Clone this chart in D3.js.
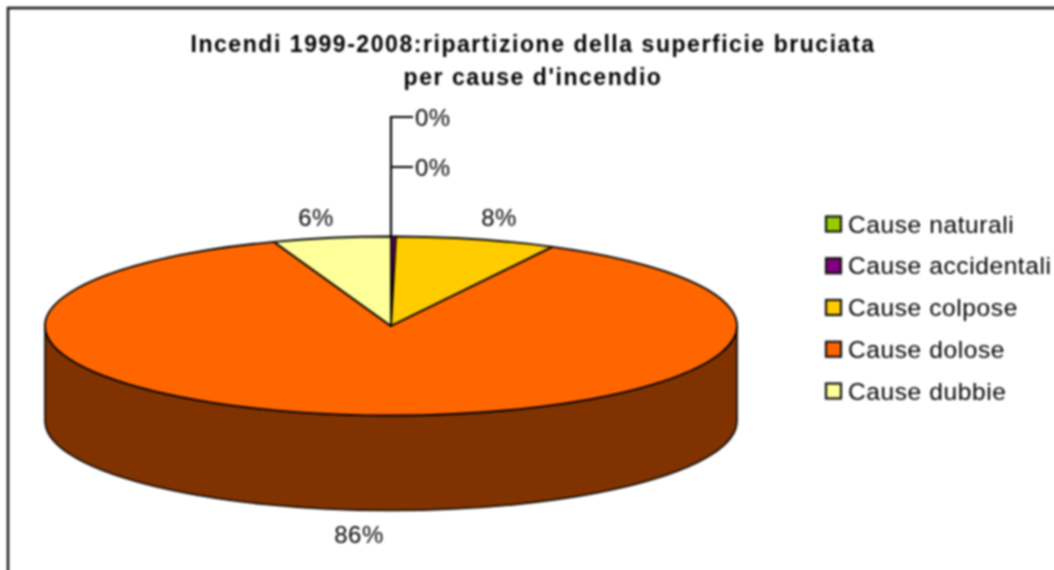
<!DOCTYPE html>
<html>
<head>
<meta charset="utf-8">
<script src="https://cdn.jsdelivr.net/npm/d3@7"></script>
<style>
  html, body { margin: 0; padding: 0; background: #fff; overflow: hidden; }
  svg { display: block; filter: blur(0.8px); }
  text { font-family: "Liberation Sans", Arial, sans-serif; fill: #000; }
</style>
</head>
<body>
<div id="chart"></div>
<script>
const causes = ['Cause naturali', 'Cause accidentali', 'Cause colpose', 'Cause dolose', 'Cause dubbie'];
const shares = [0.03, 0.2, 7.5, 86.77, 5.5];
const percentLabels = ['0%', '0%', '8%', '86%', '6%'];
const colors = ['#99cc00', '#800080', '#ffcc00', '#ff6600', '#ffff99'];
const titleLines = ['Incendi 1999-2008:ripartizione della superficie bruciata', "per cause d'incendio"];

const width = 1054, height = 570;
const cx = 391, cy = 326, rx = 346, ry = 89.5, depth = 95;

// a bit bigger than the window so the blur does not fade at the edges
const svg = d3.select('#chart')
  .append('svg')
  .attr('width', width + 10)
  .attr('height', height + 10);

// frame, only top and left fall inside the crop
svg.append('path')
  .attr('d', `M8,${height + 20}V8H${width + 20}`)
  .attr('fill', 'none')
  .attr('stroke', '#111')
  .attr('stroke-width', 2.4);

svg.selectAll('.title')
  .data(titleLines)
  .join('text')
  .attr('class', 'title')
  .attr('x', 533)
  .attr('y', (d, i) => 52 + i * 33)
  .attr('text-anchor', 'middle')
  .attr('font-size', 23)
  .attr('font-weight', 'bold')
  .attr('letter-spacing', 1.55)
  .text(d => d);

const pie = d3.pie().sort(null).value(d => d)(shares);

// angle 0 is up, clockwise, squashed onto the ellipse
const px = a => cx + rx * Math.sin(a);
const py = a => cy - ry * Math.cos(a);

// side wall: only the front half of the disc shows
const wallStart = Math.PI / 2, wallEnd = 3 * Math.PI / 2;
pie.forEach((s, i) => {
  const a0 = Math.max(s.startAngle, wallStart), a1 = Math.min(s.endAngle, wallEnd);
  if (a1 <= a0) return;
  const wall = `M${px(a0)},${py(a0)}A${rx},${ry} 0 0 1 ${px(a1)},${py(a1)}` +
    `V${py(a1) + depth}A${rx},${ry} 0 0 0 ${px(a0)},${py(a0) + depth}Z`;
  const c = d3.color(colors[i]);
  svg.append('path')
    .attr('d', wall)
    .attr('fill', d3.rgb(c.r / 2, c.g / 2, c.b / 2))
    .attr('stroke', '#000')
    .attr('stroke-width', 1.6);
});

svg.selectAll('.slice')
  .data(pie)
  .join('path')
  .attr('class', 'slice')
  .attr('d', d => {
    const large = d.endAngle - d.startAngle > Math.PI ? 1 : 0;
    return `M${cx},${cy}L${px(d.startAngle)},${py(d.startAngle)}` +
      `A${rx},${ry} 0 ${large} 1 ${px(d.endAngle)},${py(d.endAngle)}Z`;
  })
  .attr('fill', (d, i) => colors[i])
  .attr('stroke', '#000')
  .attr('stroke-width', 1.8)
  .attr('stroke-linejoin', 'round');

// leader lines for the two tiny slices
const labelPos = [
  { x: 415, y: 118, anchor: 'start' },
  { x: 415, y: 168, anchor: 'start' },
  { x: 499, y: 218, anchor: 'middle' },
  { x: 359, y: 535, anchor: 'middle' },
  { x: 316, y: 218, anchor: 'middle' }
];

svg.append('path')
  .attr('d', `M${cx},${cy - ry}V${labelPos[0].y - 1}H413M${cx},${labelPos[1].y - 1}H413`)
  .attr('fill', 'none')
  .attr('stroke', '#000')
  .attr('stroke-width', 2.2);

svg.selectAll('.pct')
  .data(percentLabels)
  .join('text')
  .attr('class', 'pct')
  .attr('x', (d, i) => labelPos[i].x)
  .attr('y', (d, i) => labelPos[i].y)
  .attr('dy', '0.35em')
  .attr('text-anchor', (d, i) => labelPos[i].anchor)
  .attr('font-size', 24)
  .attr('letter-spacing', 0.5)
  .text(d => d);

const legendY = d3.scalePoint().domain(causes).range([224, 391]);

const legend = svg.selectAll('.legend')
  .data(causes)
  .join('g')
  .attr('class', 'legend')
  .attr('transform', d => `translate(0,${legendY(d)})`);

legend.append('rect')
  .attr('x', 826)
  .attr('y', -7.5)
  .attr('width', 15)
  .attr('height', 15)
  .attr('fill', (d, i) => colors[i])
  .attr('stroke', '#111')
  .attr('stroke-width', 2.2);

legend.append('text')
  .attr('x', 848)
  .attr('dy', '0.35em')
  .attr('font-size', 24.5)
  .attr('letter-spacing', 0.6)
  .text(d => d);
</script>
</body>
</html>
